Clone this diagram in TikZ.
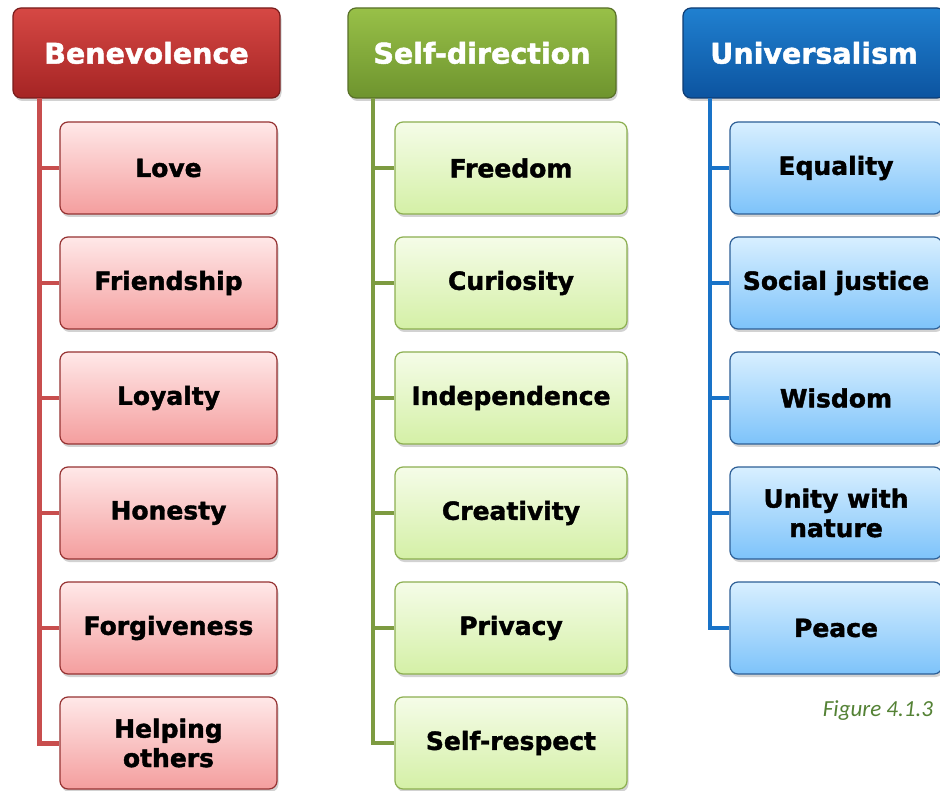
\documentclass[tikz,border=0pt]{standalone}
\usepackage{fontspec}
\setmainfont{DejaVu Sans}
\newfontfamily\heavy{DejaVu Sans}[BoldFeatures={FakeBold=1.6}]
\newfontfamily\capfont{Carlito}
\usetikzlibrary{shadows}
\definecolor{rhT}{RGB}{214,72,68}\definecolor{rhB}{RGB}{165,36,36}\definecolor{rhD}{RGB}{120,28,28}
\definecolor{rcT}{RGB}{255,232,232}\definecolor{rcB}{RGB}{244,158,158}\definecolor{rcD}{RGB}{150,50,50}
\definecolor{rL}{RGB}{200,78,78}
\definecolor{ghT}{RGB}{152,192,72}\definecolor{ghB}{RGB}{110,148,46}\definecolor{ghD}{RGB}{88,112,40}
\definecolor{gcT}{RGB}{245,252,232}\definecolor{gcB}{RGB}{212,240,166}\definecolor{gcD}{RGB}{140,175,80}
\definecolor{gL}{RGB}{125,155,65}
\definecolor{bhT}{RGB}{32,128,208}\definecolor{bhB}{RGB}{12,84,160}\definecolor{bhD}{RGB}{15,60,115}
\definecolor{bcT}{RGB}{216,239,255}\definecolor{bcB}{RGB}{125,195,250}\definecolor{bcD}{RGB}{45,95,150}
\definecolor{bL}{RGB}{25,115,200}
\definecolor{capC}{RGB}{84,130,53}
\begin{document}
\begin{tikzpicture}[x=1pt,y=-1pt,
  box/.style={rounded corners=8pt, line width=1.2pt, align=center, inner sep=0pt,
    font=\heavy\bfseries\fontsize{25}{29.4}\selectfont, minimum height=92pt,
    drop shadow={opacity=0.35,shadow xshift=1.5pt,shadow yshift=-3pt}},
  head/.style={box, minimum height=90pt, text=white, font=\heavy\bfseries\fontsize{28.5}{33}\selectfont},
  rhead/.style={head, draw=rhD, top color=rhT, bottom color=rhB, minimum width=267pt},
  rchild/.style={box, draw=rcD, top color=rcT, bottom color=rcB, minimum width=217pt},
  ghead/.style={head, draw=ghD, top color=ghT, bottom color=ghB, minimum width=268pt},
  gchild/.style={box, draw=gcD, top color=gcT, bottom color=gcB, minimum width=232pt},
  bhead/.style={head, draw=bhD, top color=bhT, bottom color=bhB, minimum width=262pt},
  bchild/.style={box, draw=bcD, top color=bcT, bottom color=bcB, minimum width=212pt},
  rline/.style={draw=rL, line width=5pt},
  gline/.style={draw=gL, line width=4pt},
  bline/.style={draw=bL, line width=4.5pt}]
\clip (0,0) rectangle (940,791);
\fill[white] (0,0) rectangle (940,791);
\coordinate (rtop) at (39.5,98);
\coordinate (gtop) at (373,98);
\coordinate (btop) at (710,98);
% spines (drawn first, boxes on top)
\path (168.5,743) coordinate (r6c) (511,743) coordinate (g6c) (836,628) coordinate (b5c);
% Benevolence
\node[rhead] (rh) at (146.5,53) {Benevolence};
\node[rchild] (r1) at (168.5,168) {Love};
\node[rchild] (r2) at (168.5,283) {Friendship};
\node[rchild] (r3) at (168.5,398) {Loyalty};
\node[rchild] (r4) at (168.5,513) {Honesty};
\node[rchild] (r5) at (168.5,628) {Forgiveness};
\node[rchild] (r6) at (168.5,743) {Helping\\others};
% Self-direction
\node[ghead] (gh) at (482,53) {Self-direction};
\node[gchild] (g1) at (511,168) {Freedom};
\node[gchild] (g2) at (511,283) {Curiosity};
\node[gchild] (g3) at (511,398) {Independence};
\node[gchild] (g4) at (511,513) {Creativity};
\node[gchild] (g5) at (511,628) {Privacy};
\node[gchild] (g6) at (511,743) {Self-respect};
% Universalism
\node[bhead] (bh) at (814,53) {Universalism};
\node[bchild] (b1) at (836,168) {Equality};
\node[bchild] (b2) at (836,283) {Social justice};
\node[bchild] (b3) at (836,398) {Wisdom};
\node[bchild] (b4) at (836,513) {Unity with\\nature};
\node[bchild] (b5) at (836,628) {Peace};
% spines
\draw[rline] (rtop) |- (r6.west);
\foreach \i in {1,...,5} \draw[rline, line width=4.5pt] (r\i.west) -- (r\i.west -| rtop);
\draw[gline] (gtop) |- (g6.west);
\foreach \i in {1,...,5} \draw[gline, line width=3.5pt] (g\i.west) -- (g\i.west -| gtop);
\draw[bline] (btop) |- (b5.west);
\foreach \i in {1,...,4} \draw[bline, line width=4pt] (b\i.west) -- (b\i.west -| btop);
\node[text=capC, font=\capfont\itshape\fontsize{23}{27}\selectfont, anchor=base] (cap) at (878,716) {Figure 4.1.3};
\end{tikzpicture}
\end{document}
